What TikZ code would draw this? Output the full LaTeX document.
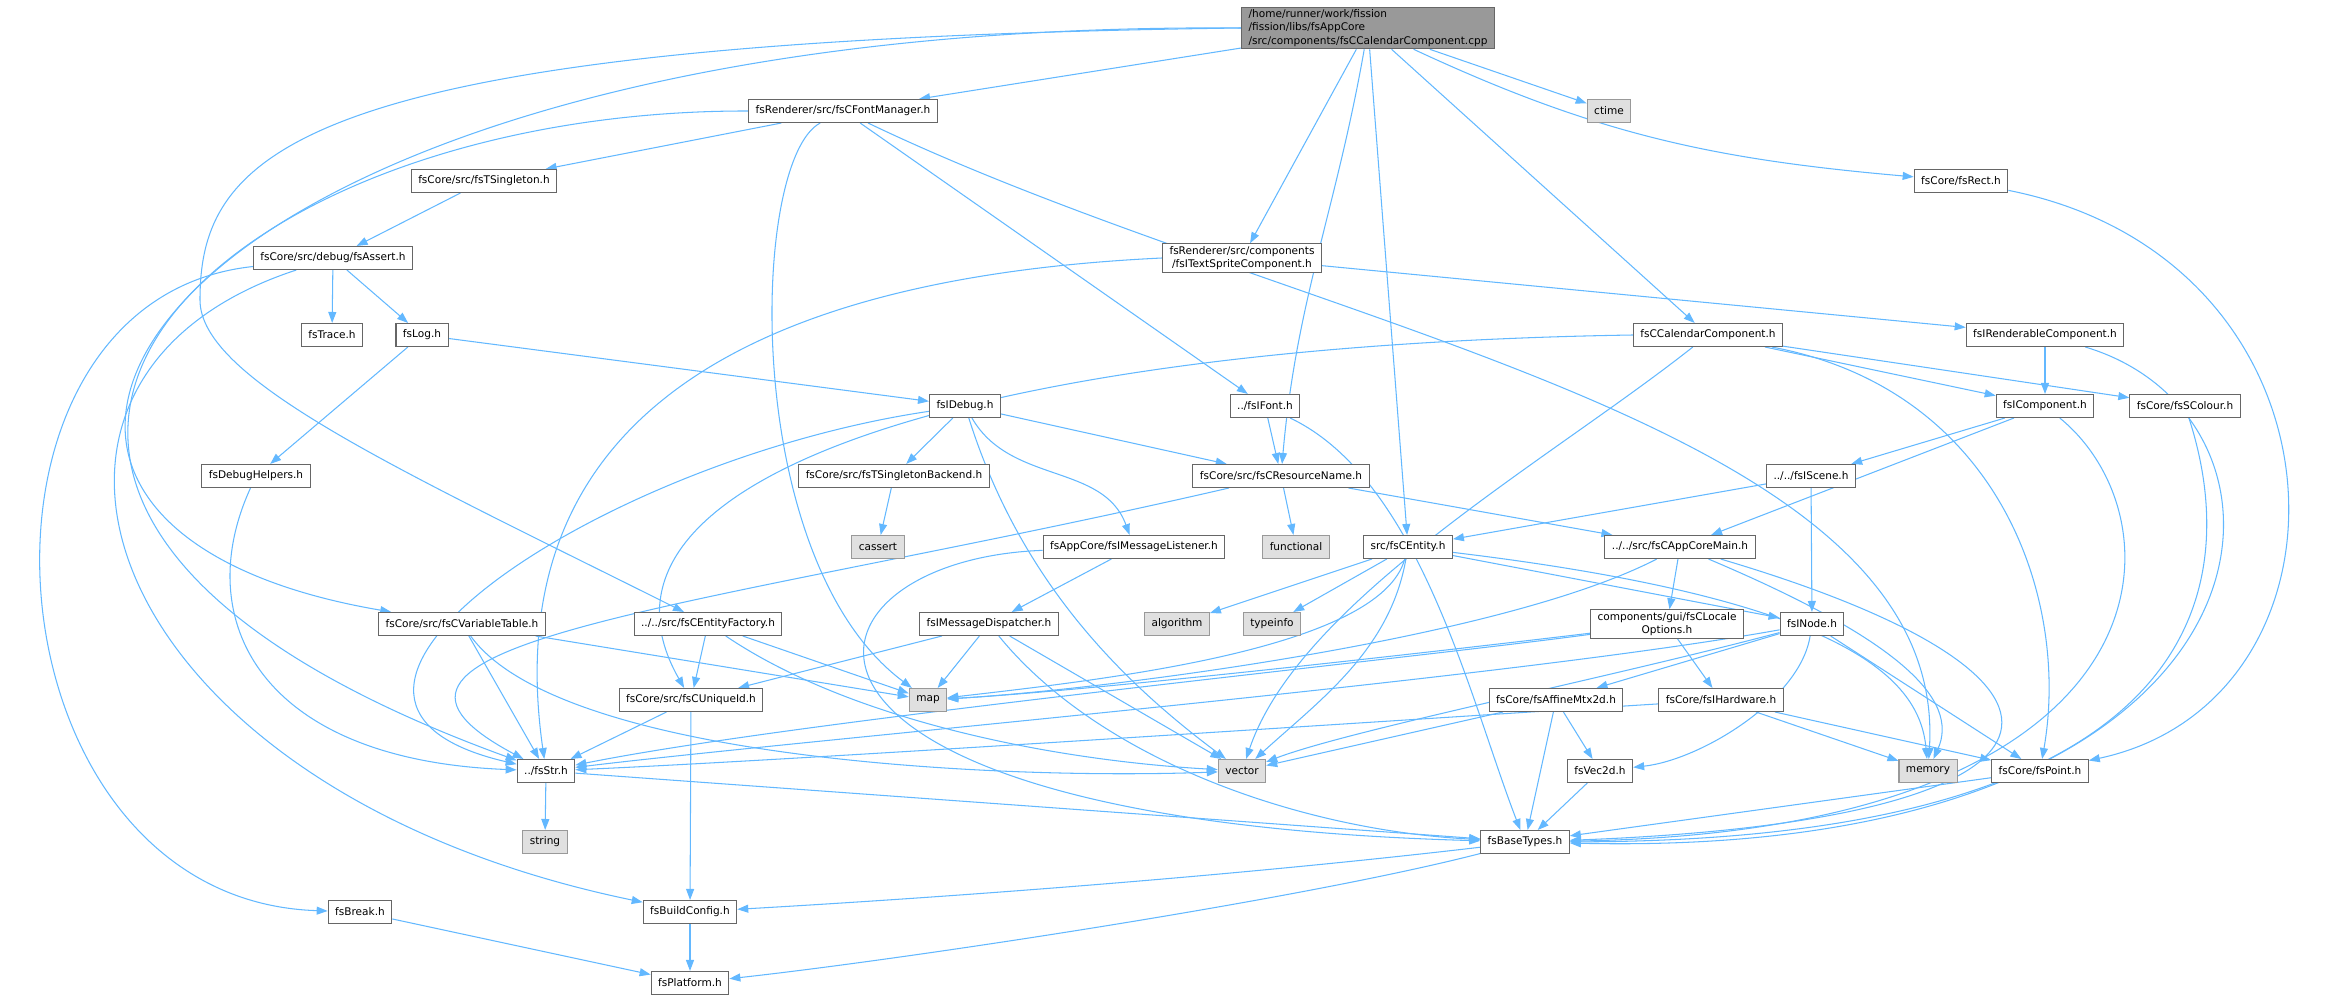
\documentclass[tikz,border=0pt]{standalone}
\usepackage{fontspec}
\setmainfont{DejaVu Sans}
\usetikzlibrary{arrows.meta}
\definecolor{edgeblue}{HTML}{63B8FF}
\definecolor{boxline}{HTML}{666666}
\definecolor{sysline}{HTML}{999999}
\definecolor{sysfill}{HTML}{E0E0E0}
\definecolor{rootfill}{HTML}{999999}
\pgfdeclarelayer{back}
\pgfsetlayers{back,main}

\begin{document}
\begin{tikzpicture}[x=0.02cm,y=-0.02cm,
  file/.style={draw=boxline,fill=white,line width=0.6pt,minimum height=0.46cm,inner xsep=0.14cm,inner ysep=0.05cm,font=\fontsize{6}{7.5}\selectfont},
  sysfile/.style={file,draw=sysline,fill=sysfill},
  incl/.style={draw=edgeblue,line width=0.6pt,-{Triangle[length=0.22cm,width=0.16cm]}}]
\useasboundingbox (0,0) rectangle (2340,1000);

% files
\node[file,fill=rootfill,align=left] (root) at (1368,28) {/home/runner/work/fission\\/fission/libs/fsAppCore\\/src/components/fsCCalendarComponent.cpp};
\node[sysfile] (ctime) at (1609,111) {ctime};
\node[file] (fontmgr) at (843,111) {fsRenderer/src/fsCFontManager.h};
\node[file] (rect) at (1961,181) {fsCore/fsRect.h};
\node[file] (tsingleton) at (484,181) {fsCore/src/fsTSingleton.h};
\node[file,align=center] (textsprite) at (1242,258) {fsRenderer/src/components\\/fsITextSpriteComponent.h};
\node[file] (assert) at (333,258) {fsCore/src/debug/fsAssert.h};
\node[file] (trace) at (332,335) {fsTrace.h};
\node[file] (log) at (422,335) {fsLog.h};
\node[file] (calcomp) at (1708,335) {fsCCalendarComponent.h};
\node[file] (rendercomp) at (2045,335) {fsIRenderableComponent.h};
\node[file] (idebug) at (965,406) {fsIDebug.h};
\node[file] (ifont) at (1265,406) {../fsIFont.h};
\node[file] (icomp) at (2045,406) {fsIComponent.h};
\node[file] (scolour) at (2185,406) {fsCore/fsSColour.h};
\node[file] (dbghelp) at (256,476) {fsDebugHelpers.h};
\node[file] (tsbackend) at (894,476) {fsCore/src/fsTSingletonBackend.h};
\node[file] (resname) at (1281,476) {fsCore/src/fsCResourceName.h};
\node[file] (iscene) at (1811,476) {../../fsIScene.h};
\node[sysfile] (cassert) at (878,547) {cassert};
\node[file] (msglistener) at (1134,547) {fsAppCore/fsIMessageListener.h};
\node[sysfile] (functional) at (1296,547) {functional};
\node[file] (entity) at (1408,547) {src/fsCEntity.h};
\node[file] (appmain) at (1680,547) {../../src/fsCAppCoreMain.h};
\node[file] (vartable) at (462,624) {fsCore/src/fsCVariableTable.h};
\node[file] (entfactory) at (708,624) {../../src/fsCEntityFactory.h};
\node[file] (msgdisp) at (989,624) {fsIMessageDispatcher.h};
\node[sysfile] (algorithm) at (1177,624) {algorithm};
\node[sysfile] (typeinfo) at (1272,624) {typeinfo};
\node[file,align=center] (locale) at (1667,624) {components/gui/fsCLocale\\Options.h};
\node[file] (inode) at (1812,624) {fsINode.h};
\node[file] (uniqueid) at (691,700) {fsCore/src/fsCUniqueId.h};
\node[sysfile] (map) at (928,700) {map};
\node[file] (affine) at (1556,700) {fsCore/fsAffineMtx2d.h};
\node[file] (ihardware) at (1721,700) {fsCore/fsIHardware.h};
\node[file] (str) at (546,771) {../fsStr.h};
\node[sysfile] (vector) at (1242,771) {vector};
\node[file] (vec2d) at (1600,771) {fsVec2d.h};
\node[sysfile] (memory) at (1928,771) {memory};
\node[file] (point) at (2040,771) {fsCore/fsPoint.h};
\node[sysfile] (string) at (545,842) {string};
\node[file] (basetypes) at (1525,842) {fsBaseTypes.h};
\node[file] (brk) at (360,912) {fsBreak.h};
\node[file] (buildconfig) at (690,912) {fsBuildConfig.h};
\node[file] (platform) at (690,983) {fsPlatform.h};

\begin{pgfonlayer}{back}
% includes of the .cpp
\draw[incl] (root) -- (fontmgr);
\draw[incl] (root.west) .. controls (150,20) and (-150,520) .. (vartable);
\draw[incl] (root.west) .. controls (300,40) and (200,150) .. (200,300) .. controls (200,380) and (400,470) .. (entfactory);
\draw[incl] (root) -- (textsprite);
\draw[incl] (root) to[out=-100,in=85] (resname);
\draw[incl] (root) -- (entity);
\draw[incl] (root) -- (calcomp);
\draw[incl] (root) to[out=-25,in=175] (rect);
\draw[incl] (root) -- (ctime);

\draw[incl] (fontmgr) -- (tsingleton);
\draw[incl] (fontmgr.west) .. controls (200,110) and (-200,500) .. (str);
\draw[incl] (fontmgr) .. controls (750,160) and (740,560) .. (map);
\draw[incl] (fontmgr) -- (ifont);
\draw[incl] (fontmgr) .. controls (1300,330) and (1950,420) .. (memory);

\draw[incl] (tsingleton) -- (assert);
\draw[incl] (assert) -- (trace);
\draw[incl] (assert) -- (log);
\draw[incl] (assert) .. controls (-60,300) and (-20,900) .. (brk);
\draw[incl] (assert) .. controls (-40,380) and (100,790) .. (buildconfig);

\draw[incl] (log) -- (idebug);
\draw[incl] (log) -- (dbghelp);
\draw[incl] (dbghelp) .. controls (190,620) and (260,760) .. (str);

\draw[incl] (idebug) -- (tsbackend);
\draw[incl] (idebug) -- (resname);
\draw[incl] (idebug) to[out=-60,in=110] (msglistener);
\draw[incl] (idebug) .. controls (1020,580) and (1120,680) .. (vector);
\draw[incl] (idebug) .. controls (600,460) and (240,700) .. (str);
\draw[incl] (tsbackend) -- (cassert);

\draw[incl] (resname) -- (functional);
\draw[incl] (resname) .. controls (700,610) and (300,640) .. (str);
\draw[incl] (resname) -- (appmain);
\draw[incl] (ifont) -- (resname);
\draw[incl] (ifont) .. controls (1420,480) and (1470,700) .. (basetypes);

\draw[incl] (textsprite) -- (rendercomp);
\draw[incl] (textsprite.west) .. controls (700,280) and (500,450) .. (str);
\draw[incl] (rendercomp) .. controls (2330,420) and (2300,860) .. (basetypes);
\draw[incl] (rendercomp) -- (icomp);

\draw[incl] (calcomp) -- (icomp);
\draw[incl] (calcomp) -- (scolour);
\draw[incl] (calcomp.west) .. controls (1000,345) and (560,470) .. (uniqueid);
\draw[incl] (calcomp) .. controls (1550,460) and (1300,600) .. (vector);
\draw[incl] (calcomp) .. controls (2000,390) and (2070,600) .. (point);

\draw[incl] (icomp) -- (iscene);
\draw[incl] (icomp) -- (appmain);
\draw[incl] (icomp) .. controls (2185,520) and (2180,830) .. (basetypes);
\draw[incl] (scolour) .. controls (2235,560) and (2240,840) .. (basetypes);

\draw[incl] (iscene) -- (entity);
\draw[incl] (iscene) -- (inode);

\draw[incl] (entity) -- (algorithm);
\draw[incl] (entity) -- (typeinfo);
\draw[incl] (entity) .. controls (1380,650) and (1100,680) .. (map);
\draw[incl] (entity) .. controls (1390,650) and (1320,700) .. (vector);
\draw[incl] (entity) -- (inode);
\draw[incl] (entity) .. controls (1850,600) and (1920,680) .. (memory);

\draw[incl] (appmain) -- (locale);
\draw[incl] (appmain) .. controls (1500,640) and (1100,690) .. (map);
\draw[incl] (appmain) .. controls (1900,640) and (1960,700) .. (memory);
\draw[incl] (appmain) .. controls (2130,680) and (2100,820) .. (basetypes);

\draw[incl] (locale) -- (ihardware);
\draw[incl] (locale) .. controls (1450,650) and (1100,690) .. (map);
\draw[incl] (locale) .. controls (1400,660) and (800,720) .. (str);

\draw[incl] (inode) -- (affine);
\draw[incl] (inode) .. controls (1800,700) and (1700,760) .. (vec2d);
\draw[incl] (inode) .. controls (1500,680) and (800,740) .. (str);
\draw[incl] (inode) .. controls (1600,680) and (1350,730) .. (vector);
\draw[incl] (inode) -- (point);

\draw[incl] (affine) -- (vec2d);
\draw[incl] (affine) -- (basetypes);
\draw[incl] (affine) -- (vector);
\draw[incl] (ihardware) -- (memory);
\draw[incl] (ihardware) -- (point);
\draw[incl] (ihardware) .. controls (1400,720) and (800,760) .. (str);
\draw[incl] (vec2d) -- (basetypes);
\draw[incl] (point) -- (basetypes);
\draw[incl] (rect) .. controls (2360,260) and (2370,700) .. (point);

\draw[incl] (str) -- (string);
\draw[incl] (str) -- (basetypes);
\draw[incl] (msglistener) .. controls (780,560) and (720,820) .. (basetypes);
\draw[incl] (msglistener) -- (msgdisp);
\draw[incl] (msgdisp) -- (uniqueid);
\draw[incl] (msgdisp) -- (map);
\draw[incl] (msgdisp) -- (vector);
\draw[incl] (msgdisp) .. controls (1100,760) and (1300,830) .. (basetypes);
\draw[incl] (uniqueid) -- (str);
\draw[incl] (uniqueid) -- (buildconfig);
\draw[incl] (vartable) -- (map);
\draw[incl] (vartable) -- (str);
\draw[incl] (vartable) .. controls (560,760) and (1000,780) .. (vector);
\draw[incl] (entfactory) -- (uniqueid);
\draw[incl] (entfactory) -- (map);
\draw[incl] (entfactory) .. controls (850,720) and (1050,760) .. (vector);

\draw[incl] (basetypes) .. controls (1200,880) and (900,900) .. (buildconfig);
\draw[incl] (basetypes) .. controls (1300,900) and (900,960) .. (platform);
\draw[incl] (buildconfig) -- (platform);
\draw[incl] (brk) -- (platform);
\end{pgfonlayer}

\end{tikzpicture}
\end{document}
